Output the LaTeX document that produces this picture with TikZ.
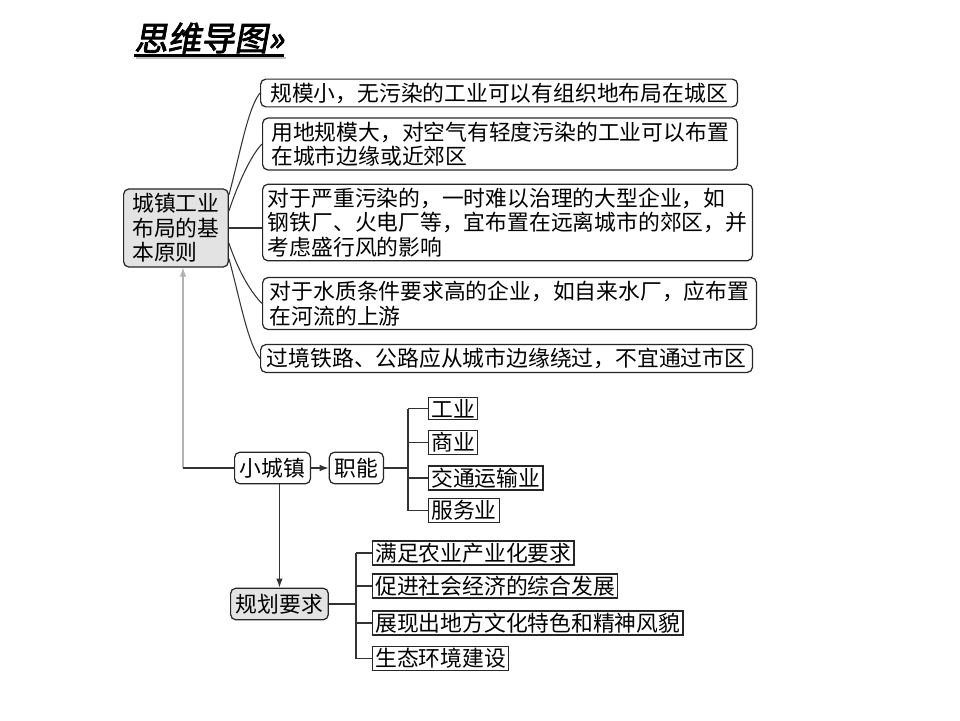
\documentclass[tikz,border=0pt]{standalone}
\usepackage{fontspec}
\setmainfont{Noto Sans CJK SC}
\newfontfamily\titlefont{Noto Sans CJK SC}[FakeSlant=0.18,FakeBold=2.5]
\usepackage{tikz}
\usetikzlibrary{arrows.meta, positioning, calc}
\tikzset{
  rulebox/.style={
    draw=black!85, rounded corners=3pt, line width=0.7pt, align=left,
    font=\fontsize{12.4pt}{14pt}\selectfont, fill=white,
    inner xsep=3pt, inner ysep=2pt, anchor=west
  },
  topicbox/.style={
    draw=black!85, rounded corners=3pt, line width=0.7pt, align=center,
    font=\fontsize{12.4pt}{14pt}\selectfont, fill=white,
    inner xsep=3pt, inner ysep=2pt, minimum height=18pt
  },
  itembox/.style={
    draw=black!85, line width=0.8pt, align=left,
    font=\fontsize{12.4pt}{14pt}\selectfont, fill=white,
    inner xsep=1.5pt, inner ysep=1pt, anchor=west
  },
  linkline/.style={line width=0.6pt, color=black!80},
  linkarrow/.style={-{Latex[length=1.8mm, width=1.3mm]}, line width=0.6pt, color=black!80},
  backarrow/.style={-{Latex[length=1.8mm, width=1.3mm]}, line width=0.6pt, color=gray!60},
}

\begin{document}
\begin{tikzpicture}[x=0.02cm, y=-0.02cm]
  \useasboundingbox (0,0) rectangle (960,720);

  % Title
  \node[font=\titlefont\fontsize{19pt}{20pt}\selectfont, anchor=west,
    inner sep=0pt] (title) at (134,38) {思维导图»};
  \draw[line width=1.2pt, gray!50] ($(title.south west)+(2,4)$) -- ($(title.south east)+(2,4)$);
  \draw[line width=1.4pt, black] ($(title.south west)+(0,2)$) -- ($(title.south east)+(0,2)$);

  % Basic principles
  \node[topicbox, fill=gray!22, align=left, inner xsep=5pt, inner ysep=2.5pt,
    anchor=west] (main) at (123,228) {城镇工业\\布局的基\\本原则};

  \node[rulebox, minimum width=9.54cm] (b1) at (260,93) {规模小，无污染的工业可以有组织地布局在城区};
  \node[rulebox, minimum width=9.5cm] (b2) at (262,144) {用地规模大，对空气有轻度污染的工业可以布置\\在城市边缘或近郊区};
  \node[rulebox] (b3) at (262,222.5) {对于严重污染的，一时难以治理的大型企业，如\\钢铁厂、火电厂等，宜布置在远离城市的郊区，并\\考虑盛行风的影响};
  \node[rulebox, minimum width=9.88cm] (b4) at (262,303.5) {对于水质条件要求高的企业，如自来水厂，应布置\\在河流的上游};
  \node[rulebox, minimum width=9.84cm] (b5) at (260,358.5) {过境铁路、公路应从城市边缘绕过，不宜通过市区};

  \draw[linkline] (main.32) .. controls +(12,-45) and +(-12,15) .. (b1.west);
  \draw[linkline] (main.18) .. controls +(10,-30) and +(-10,10) .. (b2.west);
  \draw[linkline] (main.east) -- (main.east -| b3.west);
  \draw[linkline] (main.-16) .. controls +(10,30) and +(-10,-10) .. (b4.west);
  \draw[linkline] (main.-30) .. controls +(12,45) and +(-12,-15) .. (b5.west);

  % Small town
  \coordinate (corner) at (183,468);
  \node[topicbox, anchor=west] (town) at (234,468) {小城镇};
  \node[topicbox, right=10pt of town] (func) {职能};
  \draw[backarrow] (corner) -- (corner |- main.south);
  \draw[linkline] (corner) -- (town.west);
  \draw[linkarrow] (town.east) -- (func.west);

  % Functions
  \coordinate (fbus) at (408,468);
  \node[itembox] (g1) at (428,408.5) {工业};
  \node[itembox] (g2) at (428,442.5) {商业};
  \node[itembox] (g3) at (428,478) {交通运输业};
  \node[itembox] (g4) at (428,510.5) {服务业};
  \draw[linkline] (func.east) -- (fbus);
  \draw[linkline] (fbus |- g1.west) -- (fbus |- g4.west);
  \draw[linkline] (fbus |- g1.west) -- (g1.west);
  \draw[linkline] (fbus |- g2.west) -- (g2.west);
  \draw[linkline] (fbus |- g3.west) -- (g3.west);
  \draw[linkline] (fbus |- g4.west) -- (g4.west);

  % Planning requirements
  \node[topicbox, fill=gray!22, anchor=west] (plan) at (230,604) {规划要求};
  \draw[linkarrow] (town.south -| plan.north) -- (plan.north);

  \coordinate (pbus) at (356,604);
  \node[itembox] (h1) at (372,553) {满足农业产业化要求};
  \node[itembox] (h2) at (372,586) {促进社会经济的综合发展};
  \node[itembox] (h3) at (372,623) {展现出地方文化特色和精神风貌};
  \node[itembox] (h4) at (372,658.5) {生态环境建设};
  \draw[linkline] (plan.east) -- (pbus);
  \draw[linkline] (pbus |- h1.west) -- (pbus |- h4.west);
  \draw[linkline] (pbus |- h1.west) -- (h1.west);
  \draw[linkline] (pbus |- h2.west) -- (h2.west);
  \draw[linkline] (pbus |- h3.west) -- (h3.west);
  \draw[linkline] (pbus |- h4.west) -- (h4.west);
\end{tikzpicture}
\end{document}
